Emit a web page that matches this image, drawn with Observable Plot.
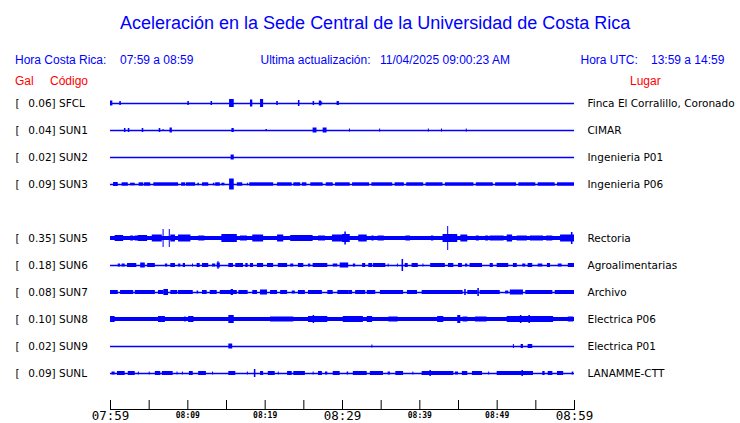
<!DOCTYPE html>
<html><head><meta charset="utf-8">
<script src="https://cdn.jsdelivr.net/npm/d3@7"></script>
<script src="https://cdn.jsdelivr.net/npm/@observablehq/plot@0.6"></script>
<style>
body{margin:0;background:#fff;}
#head{position:relative;width:740px;height:90px;font-family:"Liberation Sans",Arial,sans-serif;}
#head div{position:absolute;white-space:pre;line-height:1;font-size:12px;color:#0000ff;}
#head .t{font-size:18px;}
#head .r{color:#ff0000;}
svg{display:block;}
</style></head>
<body>
<div id="head">
  <div class="t" style="left:120px;top:13.8px">Aceleración en la Sede Central de la Universidad de Costa Rica</div>
  <div style="left:15px;top:54.4px">Hora Costa Rica:</div>
  <div style="left:120px;top:54.4px">07:59 a 08:59</div>
  <div style="left:260.5px;top:54.4px">Ultima actualización:</div>
  <div style="left:380px;top:54.4px">11/04/2025 09:00:23 AM</div>
  <div style="left:580.5px;top:54.4px">Hora UTC:</div>
  <div style="left:651px;top:54.4px">13:59 a 14:59</div>
  <div class="r" style="left:15px;top:74.8px">Gal</div>
  <div class="r" style="left:50px;top:74.8px">Código</div>
  <div class="r" style="left:630px;top:74.8px">Lugar</div>
</div>
<div id="chart"></div>
<script>
const BLUE = "#0000ff";
const codes  = ["SFCL","SUN1","SUN2","SUN3","SUN5","SUN6","SUN7","SUN8","SUN9","SUNL"];
const rowIndex = [0,1,2,3,5,6,7,8,9,10];
const gal    = ["0.06","0.04","0.02","0.09","0.35","0.18","0.08","0.10","0.02","0.09"];
const places = ["Finca El Corralillo, Coronado","CIMAR","Ingenieria P01","Ingenieria P06","Rectoria","Agroalimentarias","Archivo","Electrica P06","Electrica P01","LANAMME-CTT"];

// minutes after 07:59
const tickMinutes = [0,5,10,15,20,25,30,35,40,45,50,55,60];
const labelMinutes = [0,10,20,30,40,50,60];
const tickLabels = ["07:59","08:09","08:19","08:29","08:39","08:49","08:59"];
const majorLabel = [true,false,false,true,false,false,true];

// amplitude units: AMP_PER_ROW units = spacing between two traces
const AMP_PER_ROW = 27;

// bursts: [start minute, end minute, half amplitude]
const burstsSFCL = [[0.0,0.3,2.5],[1.2,1.4,2],[10.0,10.2,2],[13.0,13.2,2],[15.4,16.0,4],[18.1,18.4,3.5],[19.4,19.8,4],[21.5,21.7,2],[24.3,24.5,3],[26.2,26.4,2],[27.0,27.3,2.5],[27.3,27.4,1.5],[29.3,29.6,2]];
const burstsSUN1 = [[1.8,2.0,2],[2.3,2.5,2],[4.1,4.3,2],[6.3,6.5,2],[6.8,6.9,1],[7.7,8.0,2.5],[15.7,16.0,2],[20.1,20.3,1],[26.2,26.7,2.5],[27.5,28.0,2.5],[30.9,31.0,1.5],[34.8,34.9,1.5],[41.1,41.2,1.5],[42.8,42.9,1.5],[46.0,46.1,1.5]];
const burstsSUN2 = [[15.6,16.0,2.5]];
const burstsSUN3 = [[0.4,1.0,2],[1.5,2.3,1.7],[2.6,3.2,1.3],[3.7,4.3,1.7],[4.4,5.2,1.7],[5.6,8.8,1.7],[9.2,9.7,1.7],[9.8,11.0,1.7],[11.3,11.5,1.3],[11.9,12.7,1.7],[13.3,13.5,1.3],[13.6,14.2,1.7],[14.4,14.8,1.3],[15.4,16.0,5.5],[16.4,17.1,1.7],[17.7,17.8,1.3],[18.0,21.1,1.7],[21.6,23.5,1.7],[23.7,24.6,1.7],[24.8,25.4,1.7],[25.9,27.5,1.7],[27.9,28.8,1.7],[29.1,31.0,1.7],[31.3,33.5,1.7],[33.8,36.5,1.7],[36.8,38.0,1.7],[38.3,40.5,1.7],[40.8,43.0,1.7],[43.3,47.0,1.7],[47.3,49.5,1.7],[49.8,52.5,1.7],[52.8,55.0,1.7],[55.3,57.5,1.7],[57.8,60.0,1.7]];
const burstsSUN5 = [[0,60,2],[0.6,1.7,3],[2.6,3.0,2.5],[3.2,4.0,2.5],[3.6,4.8,3],[5.4,6.7,3.5],[6.8,6.9,9],[7.6,7.7,9],[7.8,8.4,3.5],[8.8,10.4,3.5],[11.4,12.2,2.5],[14.4,16.4,4],[16.8,17.7,2.5],[18.4,19.8,3.5],[21.6,22.4,3.5],[23.3,26.2,3],[26.9,27.8,2.5],[28.7,30.2,3.5],[30.0,31.0,4],[30.3,30.5,6.5],[32.1,33.2,3.5],[33.8,34.1,2.5],[34.6,35.4,2.5],[38.2,38.8,2.5],[41.5,41.8,2.5],[43.0,44.9,4],[43.6,43.7,12],[45.3,46.2,3.5],[47.3,47.7,2.5],[48.5,48.9,2.5],[49.1,50.9,2.5],[51.3,52.0,3.5],[52.6,53.9,2.5],[54.3,56.0,2.5],[56.4,57.2,2.5],[58.2,60.0,3.5],[59.6,59.8,6]];
const burstsSUN6 = [[1.0,1.3,1.5],[1.5,1.9,1.5],[2.2,3.4,2],[3.9,4.5,2.5],[4.8,5.8,2],[7.1,7.4,1.5],[7.8,8.4,2],[8.8,9.1,1.5],[9.4,9.7,2],[10.6,10.7,1.5],[11.2,11.6,2],[11.9,12.7,2],[13.2,13.6,1.5],[13.8,14.2,2.5],[13.9,14.0,4],[15.3,15.9,2],[16.2,17.2,2],[17.5,17.8,2],[18.1,18.5,2],[19.0,19.8,2],[20.3,21.1,2],[21.7,22.9,2],[23.3,23.7,1.5],[24.3,25.0,2],[25.6,25.9,1.5],[26.2,28.1,2],[28.8,29.4,1.5],[29.7,30.8,2.5],[31.4,31.7,1.5],[32.6,33.0,2],[33.4,33.9,2],[34.0,35.6,2],[35.9,36.0,1.5],[37.1,37.2,1.5],[37.7,37.9,6],[38.1,38.5,2],[39.0,39.8,2],[40.4,40.5,1.5],[41.4,43.3,2],[43.7,44.4,2],[45.0,45.5,2],[45.9,46.2,1.5],[46.5,48.1,2],[49.1,49.5,2],[50.0,51.5,2],[52.1,52.6,2],[53.3,53.7,1.5],[54.0,54.6,2],[55.3,55.9,1.5],[56.5,56.9,2],[57.9,58.4,1.5],[59.2,60.0,2]];
const burstsSUN7 = [[0.0,1.0,2],[1.3,3.0,2],[3.2,5.8,2],[6.2,6.9,2],[6.9,7.5,3],[7.8,8.7,2],[8.8,10.7,2],[11.2,11.4,1.5],[11.9,12.5,2],[12.9,13.8,2],[14.2,16.4,2],[15.6,15.9,3],[16.6,17.8,2],[18.4,19.0,2],[19.4,20.3,2.5],[20.7,21.6,2],[22.0,22.9,2],[23.5,23.9,1.5],[24.3,25.2,2],[25.6,27.4,2],[28.1,28.8,2],[29.4,30.8,2],[30.8,31.3,2],[31.7,33.0,2],[33.2,34.3,2],[34.9,37.9,2],[38.4,39.7,2],[40.3,45.6,2],[45.8,46.0,3],[46.2,47.5,2],[47.5,47.7,4],[47.8,50.4,2],[51.1,51.5,1.5],[51.7,53.4,2.5],[53.7,57.2,2],[57.5,60.0,2]];
const burstsSUN8 = [[0,60,2],[0.0,0.6,3],[6.2,7.1,3],[9.6,9.8,2.5],[10.1,10.8,3],[15.3,16.0,4],[20.7,23.7,2.5],[25.6,28.1,3],[26.2,26.4,4],[30.1,32.7,3],[33.2,33.9,3],[36.0,37.2,2.5],[42.3,43.1,3],[44.9,45.3,4],[45.6,46.2,2.5],[47.2,48.7,2.5],[51.3,57.3,3],[53.0,53.2,4],[54.1,54.3,4],[56.5,56.7,3],[59.2,59.9,2.5]];
const burstsSUN9 = [[15.3,15.8,2.5],[33.8,33.9,1.5],[52.1,52.2,2],[53.1,53.4,2],[54.0,54.6,2]];
const burstsSUNL = [[0.2,0.6,1.5],[0.9,1.9,2],[2.3,3.2,2],[3.6,3.7,1.5],[5.0,5.1,1.5],[5.8,6.5,2],[6.7,8.1,2],[8.6,8.7,1.5],[9.3,9.4,1.5],[10.2,10.7,2],[11.4,12.4,2],[13.2,13.3,1.5],[15.3,16.2,2],[17.7,17.8,1.5],[18.6,18.8,4],[19.4,19.8,2],[20.4,21.3,2],[21.7,21.8,1.5],[22.9,23.5,2],[23.7,25.2,2],[26.2,26.3,1.5],[26.9,27.4,2],[27.8,28.1,1.5],[28.8,29.7,2],[30.6,30.8,1.5],[31.4,33.2,2],[33.6,35.3,2],[35.9,36.2,1.5],[36.9,37.9,2],[39.1,39.2,1.5],[40.3,44.4,2],[41.3,41.5,3],[44.6,45.0,1.5],[45.5,46.2,2],[46.8,48.1,2],[48.9,49.0,1.5],[50.0,54.7,2],[53.2,53.4,3],[55.9,56.2,2],[56.6,57.2,2],[57.8,58.6,2],[59.7,59.9,1.5]];

const burstLists = [burstsSFCL,burstsSUN1,burstsSUN2,burstsSUN3,burstsSUN5,burstsSUN6,burstsSUN7,burstsSUN8,burstsSUN9,burstsSUNL];

const stations = codes.map((c,i) => ({code:c, row:rowIndex[i], gal:gal[i], place:places[i]}));
const burstRows = burstLists.flatMap((list,i) => list.map(([m1,m2,amp]) => ({row:rowIndex[i], m1, m2:Math.max(m2, m1+0.13), amp})));
const labels = labelMinutes.map((m,i) => ({m, label:tickLabels[i], major:majorLabel[i]}));

const LBL = {fontFamily:"DejaVu Sans", fontSize:10.5, fill:"black", textAnchor:"start"};

const chart = Plot.plot({
  width: 740, height: 333,
  marginLeft: 110, marginRight: 166, marginTop: 13, marginBottom: 14,
  x: {domain:[0,60], axis:null},
  y: {domain:[0,10], range:[13,283], axis:null},
  marks: [
    Plot.ruleY(stations, {y:"row", x1:0, x2:60, stroke:BLUE, strokeWidth:1.3}),
    Plot.rect(burstRows, {x1:"m1", x2:"m2", y1:d=>d.row - d.amp/AMP_PER_ROW, y2:d=>d.row + d.amp/AMP_PER_ROW, fill:BLUE}),
    Plot.text(stations, {y:"row", frameAnchor:"left", dx:-95, text:()=>"[", ...LBL}),
    Plot.text(stations, {y:"row", frameAnchor:"left", dx:-82.3, text:d=>`${d.gal}] ${d.code}`, ...LBL}),
    Plot.text(stations, {y:"row", frameAnchor:"right", dx:13, text:"place", ...LBL}),
    Plot.frame({anchor:"bottom", stroke:"black"}),
    Plot.ruleX(tickMinutes, {x:d=>d, insetTop:297, stroke:"black"}),
    Plot.text(labels.filter(d=>d.major), {x:"m", text:"label", frameAnchor:"bottom", lineAnchor:"top", dy:2, fontFamily:"DejaVu Sans Mono", fontSize:12.5, fill:"black"}),
    Plot.text(labels.filter(d=>!d.major), {x:"m", text:"label", frameAnchor:"bottom", lineAnchor:"top", dy:3, fontFamily:"DejaVu Sans Mono", fontSize:8, fontWeight:"bold", fill:"black"})
  ]
});
document.getElementById("chart").appendChild(chart);
</script>
</body></html>
